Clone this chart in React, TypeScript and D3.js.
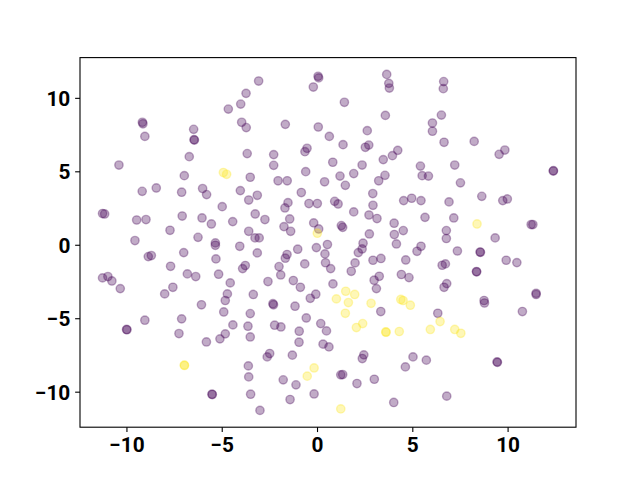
import React from "react";
import * as d3 from "d3";

// Class 0 (purple) points
const purpleX = [
  -9.19, -9.16, -9.06, -6.5, -6.48, -6.46, -6.73, -10.42, -6.99, 0.03, 0.06, -0.22, -3.09, -3.75, -4.03, -4.68, -3.98, -3.74, -1.69, 0.04,
  0.62, -3.69, -2.3, -0.55, -0.66, -2.3, -0.62, -3.53, -2.07, -1.59, 0.37, 3.63, 3.74, 3.77, 6.62, 6.6, 1.41, 3.56, 6.5, 6.03,
  6.03, 2.61, 1.34, 2.51, 2.69, 6.64, 4.21, 3.93, 3.45, 0.8, 2.34, 5.4, 5.49, 5.82, 7.2, 1.18, 1.9, 3.54, 3.21, 1.46,
  8.22, 9.53, 9.83, 12.38, 12.37, 7.5, -9.2, -8.46, -7.13, -6.03, -5.82, -11.28, -11.17, -9.49, -9.0, -7.1, -6.06, -7.74, -9.58, -6.27,
  -7.02, -8.88, -8.72, -7.71, -11.28, -11.0, -10.79, -10.35, -6.83, -6.39, -7.59, -8.02, -6.09, -4.05, -3.61, -3.16, -0.85, -0.45, -0.01, -1.55,
  -1.71, -5.0, -3.27, -2.76, -4.45, -5.57, -1.46, -1.76, -1.41, -0.2, 0.06, -3.61, -3.28, -3.06, -5.36, -5.36, -4.08, -3.16, -1.04, -0.06,
  0.52, -5.33, -1.6, -1.69, -0.67, 0.39, 0.42, -3.79, -3.93, -2.02, -1.93, -5.19, -2.6, -1.27, -0.9, -4.58, -4.73, -4.84, -3.37, -0.09,
  -0.38, -2.34, -2.31, -1.18, 2.9, 2.91, 0.9, 1.08, 1.9, 2.7, 3.12, 4.52, 4.94, 5.43, 5.64, 6.9, 4.02, 1.25, 1.32, 2.72,
  4.03, 4.5, 6.76, 6.76, 4.14, 2.39, 2.34, 2.14, 5.43, 5.22, 1.97, 2.91, 3.33, 4.63, 1.77, 0.69, 6.54, 6.71, 4.4, 4.8,
  3.24, 2.97, 3.09, 0.81, 6.78, 6.64, 3.32, 6.31, 0.47, 0.6, 0.29, 2.43, 2.35, 5.01, 4.61, 5.71, 1.22, 1.32, 2.07, 2.98,
  6.78, 4.0, 8.74, 8.76, 10.75, 9.42, 9.44, 8.62, 9.72, 9.96, 7.15, 11.21, 11.3, 9.32, 7.34, 8.53, 8.55, 9.9, 10.46, 8.34,
  8.35, 11.47, 11.47, -9.06, -10.02, -10.0, -7.13, -7.27, -5.83, -4.92, -3.53, -0.59, -4.44, -3.65, -2.25, -1.92, -0.96, 0.17, -4.84, -5.12,
  -3.53, -0.97, -2.51, -2.64, -1.32, -3.63, -3.61, -1.8, -1.13, -0.18, -5.54, -5.52, -3.51, -1.44, -3.02,
];
const purpleY = [
  8.37, 8.27, 7.41, 7.89, 7.19, 7.16, 6.03, 5.46, 4.74, 11.5, 11.39, 10.77, 11.18, 10.34, 9.61, 9.27, 8.37, 8.01, 8.23, 8.05,
  7.41, 6.24, 6.17, 6.6, 6.37, 5.44, 5.01, 4.63, 4.39, 4.39, 4.32, 11.63, 11.02, 10.7, 11.14, 10.66, 9.73, 8.84, 8.86, 8.32,
  7.76, 7.8, 6.85, 6.67, 6.82, 7.01, 6.46, 6.1, 5.83, 5.65, 5.46, 5.39, 4.74, 4.71, 5.46, 4.71, 4.88, 4.76, 4.39, 4.08,
  7.07, 6.19, 6.48, 5.08, 5.05, 4.25, 3.67, 3.9, 3.61, 3.86, 3.45, 2.16, 2.13, 1.72, 1.75, 1.99, 1.86, 1.02, 0.32, 0.54,
  -0.5, -0.77, -0.7, -1.43, -2.22, -2.13, -2.43, -2.95, -1.95, -2.13, -2.86, -3.31, -4.05, 3.72, 3.08, 3.4, 3.59, 2.84, 2.84, 2.9,
  2.54, 2.63, 2.13, 1.75, 1.61, 1.45, 1.79, 1.27, 0.95, 1.52, 1.11, 0.95, 0.5, 0.5, 0.16, 0.0, -0.07, -0.52, -0.27, -0.16,
  0.05, -0.93, -0.63, -0.88, -1.27, -0.59, -1.19, -1.38, -1.59, -1.45, -2.02, -1.97, -2.47, -2.4, -2.86, -2.56, -3.31, -3.76, -3.35, -3.33,
  -3.61, -3.98, -4.05, -4.15, 3.52, 2.72, 2.99, 2.81, 2.27, 2.06, 1.82, 3.04, 3.2, 3.04, 1.9, 2.95, 1.5, 1.34, 1.22, 0.77,
  0.73, 1.0, 1.0, 0.46, 0.09, 0.14, -0.25, -0.5, -0.07, -0.41, -1.2, -1.02, -0.9, -1.0, -1.77, -1.59, -1.36, -1.27, -1.99, -2.2,
  -2.11, -2.38, -2.95, -2.63, -2.61, -2.86, -4.51, -4.63, -5.83, -6.92, -6.73, -7.46, -7.71, -7.6, -8.28, -7.82, -8.82, -8.8, -9.41, -9.12,
  -10.27, -10.7, -3.76, -3.93, -4.51, -7.94, -7.97, 3.33, 3.04, 3.15, 1.86, 1.41, 1.41, 0.5, -0.39, -0.46, -0.48, -1.02, -1.18, -1.79,
  -1.81, -3.27, -3.35, -5.1, -5.73, -5.75, -5.01, -6.01, -6.58, -4.54, -4.65, -4.95, -5.42, -5.51, -5.44, -5.56, -5.85, -5.33, -6.03, -6.37,
  -6.24, -6.6, -7.37, -7.6, -7.48, -8.21, -8.96, -9.16, -9.5, -10.12, -10.14, -10.16, -10.14, -10.5, -11.24,
];

// Class 1 (yellow) points
const yellowX = [
  -4.94, -4.77, -0.01, 1.48, 1.95, 0.99, 1.62, 2.81, 4.37, 4.49, 4.87, 1.46, 2.04, 2.37, 3.58, 3.6, 4.29, 5.92, 6.43, 7.2,
  7.52, 8.37, -6.99, -6.98, -0.18, -0.54, 1.22,
];
const yellowY = [
  4.95, 4.83, 0.82, -3.13, -3.35, -3.65, -3.9, -3.95, -3.69, -3.76, -4.08, -4.63, -5.6, -5.33, -5.9, -5.92, -5.87, -5.73, -5.19, -5.73,
  -5.99, 1.45, -8.16, -8.18, -8.35, -8.91, -11.14,
];

const xTicks = [-10, -5, 0, 5, 10];
const yTicks = [-10, -5, 0, 5, 10];

const W = 640;
const H = 480;
const left = 80;
const right = 576;
const top = 57.6;
const bottom = 427.2;

const PURPLE = "#440154";
const YELLOW = "#fde725";

function pad([a, b]: [number, number]): [number, number] {
  const m = (b - a) * 0.05;
  return [a - m, b + m];
}

export default function App() {
  const allX = [...purpleX, ...yellowX];
  const allY = [...purpleY, ...yellowY];
  const x = d3.scaleLinear().domain(pad(d3.extent(allX) as [number, number])).range([left, right]);
  const y = d3.scaleLinear().domain(pad(d3.extent(allY) as [number, number])).range([bottom, top]);

  const fmt = (v: number) => (v < 0 ? "\u2212" + Math.abs(v) : String(v));

  const pts = [
    ...purpleX.map((v, i) => ({ x: v, y: purpleY[i], c: PURPLE })),
    ...yellowX.map((v, i) => ({ x: v, y: yellowY[i], c: YELLOW })),
  ];

  return (
    <svg
      width={W}
      height={H}
      style={{ position: "absolute", left: 0, top: 0, background: "#fff" }}
      fontFamily="Roboto"
    >
      <rect x={0} y={0} width={W} height={H} fill="#fff" />
      <g>
        {pts.map((p, i) => (
          <circle
            key={i}
            cx={x(p.x)}
            cy={y(p.y)}
            r={4.17}
            fill={p.c}
            fillOpacity={0.33}
            stroke={p.c}
            strokeOpacity={0.33}
            strokeWidth={1.39}
          />
        ))}
      </g>
      <rect x={left} y={top} width={right - left} height={bottom - top} fill="none" stroke="#000" strokeWidth={1.1} />
      {xTicks.map((t) => (
        <g key={"x" + t} transform={`translate(${x(t)},${bottom})`}>
          <line y1={0} y2={4.86} stroke="#000" strokeWidth={1.1} />
          <text y={24.5} textAnchor="middle" fontSize={20.8} fontWeight="bold" fill="#000">
            {fmt(t)}
          </text>
        </g>
      ))}
      {yTicks.map((t) => (
        <g key={"y" + t} transform={`translate(${left},${y(t)})`}>
          <line x1={0} x2={-4.86} stroke="#000" strokeWidth={1.1} />
          <text x={-9.7} dy="0.36em" textAnchor="end" fontSize={20.8} fontWeight="bold" fill="#000">
            {fmt(t)}
          </text>
        </g>
      ))}
    </svg>
  );
}
